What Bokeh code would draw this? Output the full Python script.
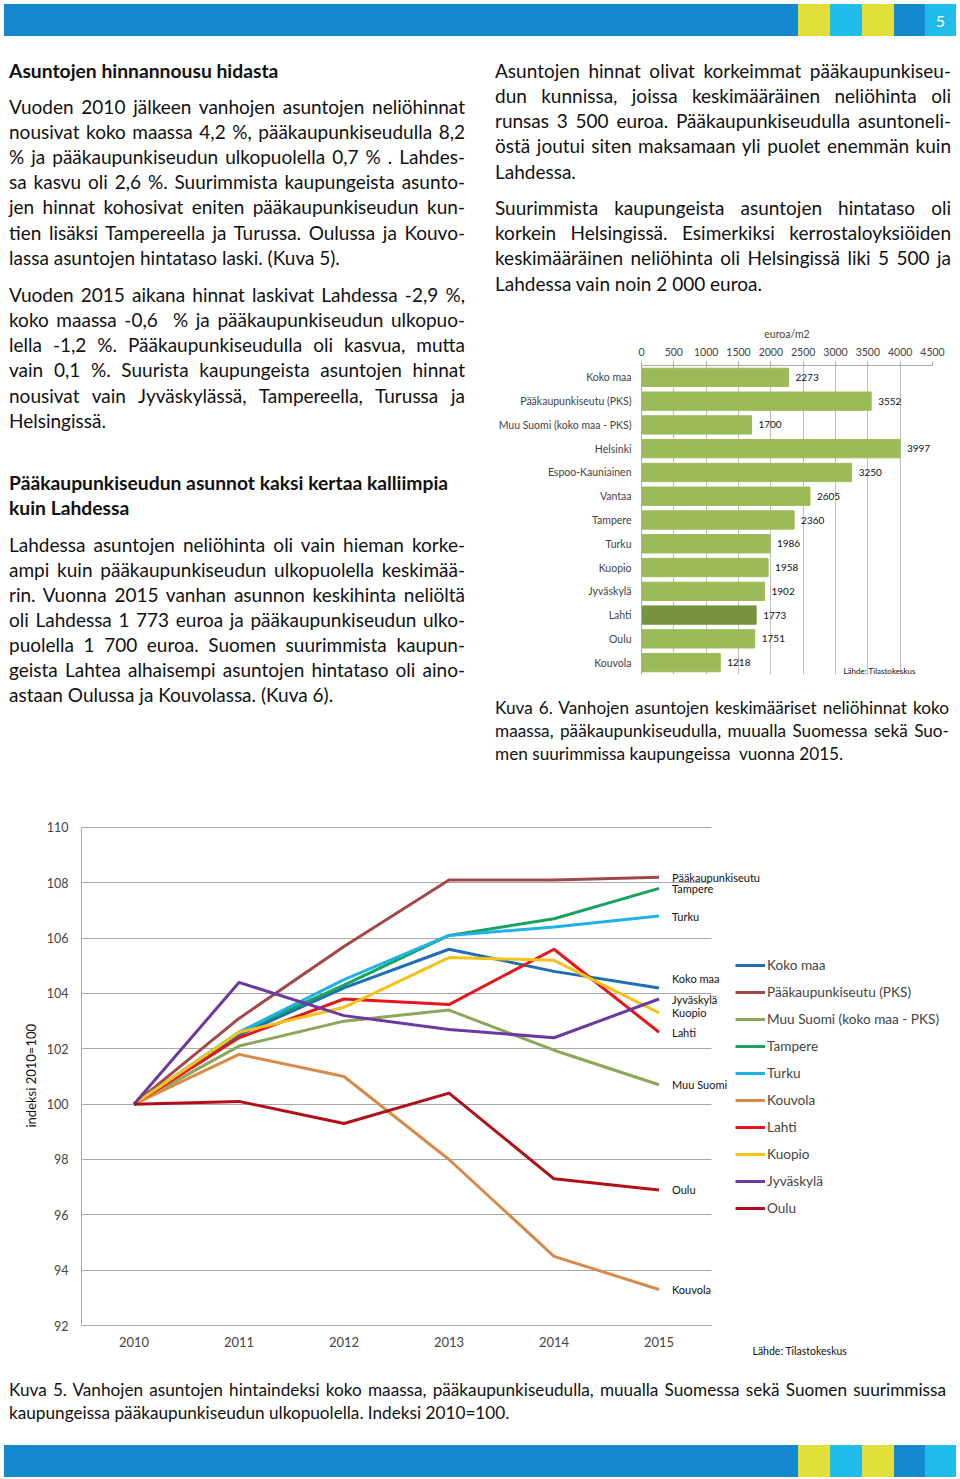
from bokeh.plotting import figure
from bokeh.models import (Div, Range1d, FactorRange, SingleIntervalTicker, FixedTicker, Legend,
                          LegendItem, Label, ColumnDataSource, Title)
from bokeh.layouts import column, row
from bokeh.embed import file_html
from bokeh.resources import INLINE
from bokeh.core.properties import value

# ---------------- data ----------------
bar_categories = ["Koko maa", "Pääkaupunkiseutu (PKS)", "Muu Suomi (koko maa - PKS)",
                  "Helsinki", "Espoo-Kauniainen", "Vantaa", "Tampere", "Turku",
                  "Kuopio", "Jyväskylä", "Lahti", "Oulu", "Kouvola"]
bar_values = [2273, 3552, 1700, 3997, 3250, 2605, 2360, 1986, 1958, 1902, 1773, 1751, 1218]
bar_highlight = "Lahti"

years = ["2010", "2011", "2012", "2013", "2014", "2015"]
koko_maa = [100, 102.5, 104.2, 105.6, 104.8, 104.2]
pks = [100, 103.1, 105.7, 108.1, 108.1, 108.2]
muu_suomi = [100, 102.1, 103.0, 103.4, 101.95, 100.7]
tampere = [100, 102.6, 104.3, 106.1, 106.7, 107.8]
turku = [100, 102.6, 104.5, 106.1, 106.4, 106.8]
kouvola = [100, 101.8, 101.0, 98.0, 94.5, 93.3]
lahti = [100, 102.4, 103.8, 103.6, 105.6, 102.6]
kuopio = [100, 102.6, 103.5, 105.3, 105.2, 103.3]
jyvaskyla = [100, 104.4, 103.2, 102.7, 102.4, 103.8]
oulu = [100, 100.1, 99.3, 100.4, 97.3, 96.9]

series_names = ["Koko maa", "Pääkaupunkiseutu (PKS)", "Muu Suomi (koko maa - PKS)",
                "Tampere", "Turku", "Kouvola", "Lahti", "Kuopio", "Jyväskylä", "Oulu"]
series_values = [koko_maa, pks, muu_suomi, tampere, turku, kouvola, lahti, kuopio, jyvaskyla, oulu]
end_labels = ["Koko maa", "Pääkaupunkiseutu", "Muu Suomi", "Tampere", "Turku",
              "Kouvola", "Lahti", "Kuopio", "Jyväskylä", "Oulu"]
y_ticks = [92, 94, 96, 98, 100, 102, 104, 106, 108, 110]

# ---------------- styles ----------------
FONT = "Lato"
series_colors = ["#1F6DB3", "#A34848", "#8CA65A", "#17A35E", "#1EB2E6",
                 "#D68A4C", "#E3171C", "#F5C21B", "#6B3A9E", "#B0101A"]
end_label_dy = [-9, 0, 0, 0, 0, 0, 0, 0, 0, 0]
BLUE, CYAN, YELLOW = "#1589CE", "#1FBCEC", "#E2DE3A"
GRID = "#A9A9A9"
BODY_FS, BODY_LH = 19, 25.2
CAP = (17.2, 23)


def band(with_number):
    segs = [(BLUE, 794), (YELLOW, 32), (CYAN, 32), (YELLOW, 32), (BLUE, 31), (CYAN, 31)]
    html = '<div style="display:flex;width:952px;height:32px;">'
    for i, (c, w) in enumerate(segs):
        inner = ""
        if with_number and i == len(segs) - 1:
            inner = ('<span style="color:white;font-family:Lato;font-size:16px;'
                     'display:block;text-align:center;line-height:34px;">5</span>')
        html += '<div style="background:%s;width:%dpx;height:100%%;">%s</div>' % (c, w, inner)
    html += "</div>"
    return Div(text=html, width=952, height=32, margin=(0, 0, 0, 0))


def text_block(lines, width, height):
    html = '<div style="position:relative;width:%dpx;height:%dpx;">' % (width, height)
    for (top, txt, just, bold, left, w, fs, lh) in lines:
        al = "justify" if just else "left"
        html += ('<div style="position:absolute;left:%spx;top:%spx;width:%spx;height:%spx;'
                 'line-height:%spx;font-family:Lato;font-size:%spx;color:#111;white-space:nowrap;'
                 'font-weight:%s;text-align:%s;text-align-last:%s;">%s</div>'
                 % (left, top, w, lh, lh, fs, "bold" if bold else "normal", al, al, txt))
    html += "</div>"
    return Div(text=html, width=width, height=height, margin=(0, 0, 0, 0))


ROW_TOP = 36


def L(center, txt, just=True, bold=False, left=5, w=456, fs=BODY_FS, lh=BODY_LH, origin=ROW_TOP):
    return (round(center - origin - lh / 2, 1), txt, just, bold, left, w,
            (fs + 0.3 if bold else fs), lh)


left_lines = [
    L(71, "Asuntojen hinnannousu hidasta", False, True),
    L(107, "Vuoden 2010 jälkeen vanhojen asuntojen neliöhinnat"),
    L(132, "nousivat koko maassa 4,2 %, pääkaupunkiseudulla 8,2"),
    L(157, "% ja pääkaupunkiseudun ulkopuolella 0,7 % . Lahdes-"),
    L(182, "sa kasvu oli 2,6 %. Suurimmista kaupungeista asunto-"),
    L(207, "jen hinnat kohosivat eniten pääkaupunkiseudun kun-"),
    L(233, "tien lisäksi Tampereella ja Turussa. Oulussa ja Kouvo-"),
    L(258, "lassa asuntojen hintataso laski. (Kuva 5).", False),
    L(295, "Vuoden 2015 aikana hinnat laskivat Lahdessa -2,9 %,"),
    L(320, "koko maassa -0,6 &nbsp;% ja pääkaupunkiseudun ulkopuo-"),
    L(345, "lella -1,2 %. Pääkaupunkiseudulla oli kasvua, mutta"),
    L(370, "vain 0,1 %. Suurista kaupungeista asuntojen hinnat"),
    L(396, "nousivat vain Jyväskylässä, Tampereella, Turussa ja"),
    L(421, "Helsingissä.", False),
    L(483, "Pääkaupunkiseudun asunnot kaksi kertaa kalliimpia", False, True),
    L(508, "kuin Lahdessa", False, True),
    L(545, "Lahdessa asuntojen neliöhinta oli vain hieman korke-"),
    L(570, "ampi kuin pääkaupunkiseudun ulkopuolella keskimää-"),
    L(595, "rin. Vuonna 2015 vanhan asunnon keskihinta neliöltä"),
    L(620, "oli Lahdessa 1 773 euroa ja pääkaupunkiseudun ulko-"),
    L(645, "puolella 1 700 euroa. Suomen suurimmista kaupun-"),
    L(670, "geista Lahtea alhaisempi asuntojen hintataso oli aino-"),
    L(695, "astaan Oulussa ja Kouvolassa. (Kuva 6).", False),
]
left_div = text_block(left_lines, 491, 754)

right_lines = [
    L(71, "Asuntojen hinnat olivat korkeimmat pääkaupunkiseu-", left=0),
    L(96, "dun kunnissa, joissa keskimääräinen neliöhinta oli", left=0),
    L(121, "runsas 3 500 euroa. Pääkaupunkiseudulla asuntoneli-", left=0),
    L(146, "östä joutui siten maksamaan yli puolet enemmän kuin", left=0),
    L(172, "Lahdessa.", False, left=0),
    L(208, "Suurimmista kaupungeista asuntojen hintataso oli", left=0),
    L(233, "korkein Helsingissä. Esimerkiksi kerrostaloyksiöiden", left=0),
    L(258, "keskimääräinen neliöhinta oli Helsingissä liki 5 500 ja", left=0),
    L(284, "Lahdessa vain noin 2 000 euroa.", False, left=0),
]
right_text_div = text_block(right_lines, 461, 264)

cap6 = [
    L(707, "Kuva 6. Vanhojen asuntojen keskimääriset neliöhinnat koko", left=0, w=454,
      fs=CAP[0], lh=CAP[1], origin=680),
    L(730, "maassa, pääkaupunkiseudulla, muualla Suomessa sekä Suo-", left=0, w=454,
      fs=CAP[0], lh=CAP[1], origin=680),
    L(753, "men suurimmissa kaupungeissa &nbsp;vuonna 2015.", False, left=0, w=454,
      fs=CAP[0], lh=CAP[1], origin=680),
]
cap6_div = text_block(cap6, 461, 110)

cap5 = [
    L(1389, "Kuva 5. Vanhojen asuntojen hintaindeksi koko maassa, pääkaupunkiseudulla, muualla Suomessa sekä Suomen suurimmissa",
      left=5, w=937, fs=CAP[0], lh=CAP[1], origin=1370),
    L(1412, "kaupungeissa pääkaupunkiseudun ulkopuolella. Indeksi 2010=100.", False,
      left=5, w=937, fs=CAP[0], lh=CAP[1], origin=1370),
]
cap5_div = text_block(cap5, 952, 75)

# ---------------- bar chart ----------------
bar_colors = ["#77933C" if c == bar_highlight else "#9BBB59" for c in bar_categories]
bsrc = ColumnDataSource(dict(cat=bar_categories, val=bar_values, color=bar_colors,
                             lab=[str(v) for v in bar_values]))
bp = figure(width=461, height=380, output_backend="svg", toolbar_location=None,
            x_range=Range1d(0, 4500), y_range=FactorRange(*reversed(bar_categories)),
            x_axis_location="above", min_border_left=145, min_border_right=24,
            min_border_top=65, min_border_bottom=6, margin=(0, 0, 0, 0))
bp.outline_line_color = None
bp.background_fill_color = None
bp.border_fill_color = None
bp.hbar(y="cat", right="val", height=0.77, color="color", source=bsrc)
bp.text(x="val", y="cat", text="lab", source=bsrc, x_offset=7, text_baseline="middle",
        text_font=value(FONT), text_font_size="10px", text_color="#111")
bp.xaxis.ticker = SingleIntervalTicker(interval=500, num_minor_ticks=0)
bp.xaxis.axis_label = "euroa/m2"
bp.xaxis.axis_label_text_font = FONT
bp.xaxis.axis_label_text_font_style = "normal"
bp.xaxis.axis_label_text_font_size = "10.5px"
bp.xaxis.axis_label_standoff = 5
bp.xaxis.major_label_text_font = FONT
bp.xaxis.major_label_text_font_size = "10.5px"
bp.xaxis.major_label_standoff = 6
bp.xaxis.axis_line_color = GRID
bp.xaxis.major_tick_line_color = GRID
bp.xaxis.major_tick_out = 4
bp.xaxis.major_tick_in = 0
bp.xaxis.minor_tick_line_color = None
bp.yaxis.major_label_text_font = FONT
bp.yaxis.major_label_text_font_size = "10.5px"
bp.yaxis.major_label_standoff = 10
bp.yaxis.major_tick_out = 0
bp.yaxis.major_tick_in = 0
bp.yaxis.axis_line_color = GRID
bp.yaxis.major_tick_line_color = None
bp.ygrid.grid_line_color = None
bp.xgrid.grid_line_color = "#BDBDBD"
bp.add_layout(Label(x=202, y=4, x_units="screen", y_units="screen", text="Lähde: Tilastokeskus",
                    text_font=FONT, text_font_size="8px", text_baseline="middle", text_color="#111"))

right_col = column(right_text_div, bp, cap6_div, spacing=0, margin=(0, 0, 0, 0))
main_row = row(left_div, right_col, spacing=0, margin=(0, 0, 0, 0))

# ---------------- line chart ----------------
# frame: x 81..956 (105 px per year), y 826..1360 (110 -> 827, 92 -> 1325)
xs = list(range(len(years)))
px_per_year = 105.0
frame_w = 875
lp = figure(width=952, height=580, output_backend="svg", toolbar_location=None,
            x_range=Range1d(-0.5, -0.5 + frame_w / px_per_year),
            y_range=Range1d(90.735, 110.036),
            min_border_left=77, min_border_right=0, min_border_top=36, min_border_bottom=10,
            margin=(0, 0, 0, 0))
lp.outline_line_color = None
lp.background_fill_color = None
lp.border_fill_color = None

grid_done = False
try:
    lp.ygrid.cross_bounds = (-0.5, len(years) - 0.5)
    lp.ygrid.grid_line_color = GRID
    lp.ygrid.grid_line_width = 1.2
    grid_done = True
except Exception:
    lp.ygrid.grid_line_color = None
if not grid_done:
    lp.segment(x0=[-0.5] * len(y_ticks), x1=[len(years) - 0.5] * len(y_ticks), y0=y_ticks, y1=y_ticks,
               line_color=GRID, line_width=1.2, level="underlay")
lp.xgrid.grid_line_color = None

items = []
for name, vals, col in zip(series_names, series_values, series_colors):
    r = lp.line(xs, vals, line_color=col, line_width=3, line_join="round")
    items.append(LegendItem(label=name, renderers=[r]))

esrc = ColumnDataSource(dict(x=[xs[-1]] * len(series_values),
                             y=[v[-1] for v in series_values], t=end_labels, dy=end_label_dy))
lp.text(x="x", y="y", text="t", y_offset="dy", source=esrc, x_offset=13,
        text_baseline="middle", text_font=value(FONT), text_font_size="11px", text_color="#111")

leg = Legend(items=items, location=(654, 142), glyph_width=30, glyph_height=20, label_height=20,
             spacing=7, padding=0, margin=0, label_standoff=2,
             label_text_font=FONT, label_text_font_size="13.6px",
             background_fill_alpha=0, border_line_color=None)
lp.add_layout(leg)

lp.yaxis.ticker = FixedTicker(ticks=y_ticks)
lp.yaxis.bounds = (y_ticks[0], y_ticks[-1])
lp.yaxis.major_label_text_font = FONT
lp.yaxis.major_label_text_font_size = "12.5px"
lp.yaxis.major_label_standoff = 13
lp.yaxis.major_tick_out = 0
lp.yaxis.major_tick_in = 0
lp.yaxis.major_tick_line_color = None
lp.yaxis.minor_tick_line_color = None
lp.yaxis.axis_line_color = GRID
# y-axis title placed along the 92..110 span (the frame extends below 92)
lp.add_layout(Title(text="indeksi 2010=100", align="left", offset=233, text_font=FONT,
                    text_font_size="13px", text_font_style="normal", text_color="#111"), "left")

lp.xaxis.ticker = FixedTicker(ticks=xs)
lp.xaxis.major_label_overrides = {i: y for i, y in zip(xs, years)}
lp.xaxis.fixed_location = y_ticks[0]
lp.xaxis.bounds = (-0.5, len(years) - 0.5)
lp.xaxis.major_label_text_font = FONT
lp.xaxis.major_label_text_font_size = "13px"
lp.xaxis.major_label_standoff = 11
lp.xaxis.major_tick_out = 0
lp.xaxis.major_tick_in = 0
lp.xaxis.major_tick_line_color = None
lp.xaxis.minor_tick_line_color = None
lp.xaxis.axis_line_color = GRID
lp.xaxis.axis_line_width = 1.2
lp.add_layout(Label(x=671, y=10, x_units="screen", y_units="screen", text="Lähde: Tilastokeskus",
                    text_font=FONT, text_font_size="10.5px", text_baseline="middle", text_color="#111"))

page = column(band(True), main_row, lp, cap5_div, band(False), spacing=0, margin=(4, 0, 0, 4))

open("out.html", "w").write(file_html(page, INLINE, title="Asuntojen hinnat"))
